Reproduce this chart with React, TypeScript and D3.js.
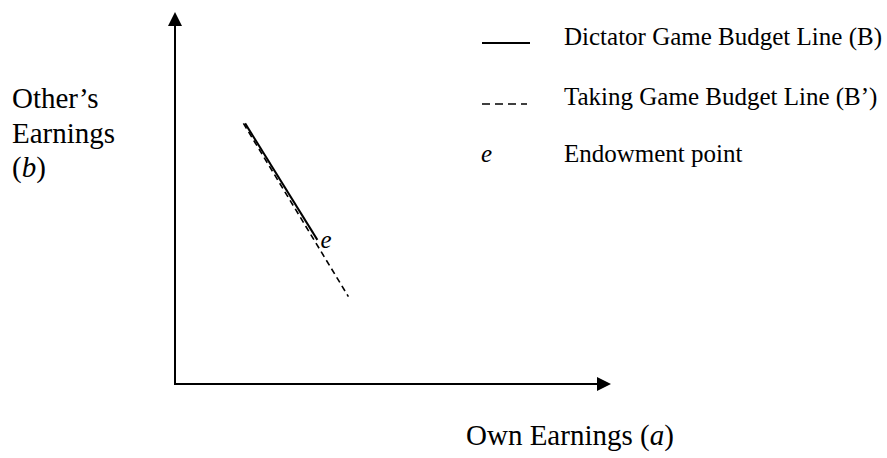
import React, { useEffect, useRef } from 'react'
import * as d3 from 'd3'

// conceptual units: own earnings (a) on x, other's earnings (b) on y
const dictatorLine = [
  { a: 1.65, b: 7.16 },
  { a: 3.35, b: 3.96 },
]
const takingLine = [
  { a: 1.61, b: 7.16 },
  { a: 4.08, b: 2.4 },
]
const endowment = { a: 3.35, b: 3.96, label: 'e' }

const legendItems = [
  { kind: 'solid', label: 'Dictator Game Budget Line (B)' },
  { kind: 'dashed', label: 'Taking Game Budget Line (B\u2019)' },
  { kind: 'point', label: 'Endowment point' },
]
const legendBaselines = [45, 105, 162]

const yLabelLines = ['Other\u2019s', 'Earnings']

const App: React.FC = () => {
  const ref = useRef<SVGSVGElement | null>(null)

  useEffect(() => {
    if (!ref.current) return
    const svg = d3.select(ref.current)
    svg.selectAll('*').remove()
    const font = '"Liberation Serif", "Times New Roman", serif'

    const x = d3.scaleLinear().domain([0, 10]).range([175, 600])
    const y = d3.scaleLinear().domain([0, 10]).range([384, 20])

    // axes with arrow heads
    svg
      .append('line')
      .attr('x1', x(0))
      .attr('y1', y(0) + 1)
      .attr('x2', x(0))
      .attr('y2', 24)
      .attr('stroke', '#000')
      .attr('stroke-width', 2)
    svg
      .append('line')
      .attr('x1', x(0) - 1)
      .attr('y1', y(0))
      .attr('x2', 598)
      .attr('y2', y(0))
      .attr('stroke', '#000')
      .attr('stroke-width', 2)
    svg
      .append('path')
      .attr('d', `M${x(0)},12 L${x(0) - 7},26 L${x(0) + 7},26 Z`)
      .attr('fill', '#000')
    svg
      .append('path')
      .attr('d', `M611,${y(0)} L597,${y(0) - 7} L597,${y(0) + 7} Z`)
      .attr('fill', '#000')

    const line = d3
      .line<{ a: number; b: number }>()
      .x((d) => x(d.a))
      .y((d) => y(d.b))

    svg
      .append('path')
      .attr('d', line(takingLine))
      .attr('fill', 'none')
      .attr('stroke', '#000')
      .attr('stroke-width', 1.6)
      .attr('stroke-dasharray', '6,4')
    svg
      .append('path')
      .attr('d', line(dictatorLine))
      .attr('fill', 'none')
      .attr('stroke', '#000')
      .attr('stroke-width', 2)

    svg
      .append('text')
      .attr('x', x(endowment.a) + 3)
      .attr('y', y(endowment.b) + 8)
      .attr('font-family', font)
      .attr('font-style', 'italic')
      .attr('font-size', 25)
      .text(endowment.label)

    // legend
    const legend = svg.append('g')
    legendItems.forEach((item, i) => {
      const base = legendBaselines[i]
      if (item.kind === 'solid') {
        legend
          .append('line')
          .attr('x1', 482)
          .attr('x2', 530)
          .attr('y1', base - 2)
          .attr('y2', base - 2)
          .attr('stroke', '#000')
          .attr('stroke-width', 2)
      } else if (item.kind === 'dashed') {
        legend
          .append('line')
          .attr('x1', 482)
          .attr('x2', 527)
          .attr('y1', base - 1)
          .attr('y2', base - 1)
          .attr('stroke', '#000')
          .attr('stroke-width', 1.5)
          .attr('stroke-dasharray', '8,5')
      } else {
        legend
          .append('text')
          .attr('x', 481)
          .attr('y', base)
          .attr('font-family', font)
          .attr('font-style', 'italic')
          .attr('font-size', 25)
          .text('e')
      }
      legend
        .append('text')
        .attr('x', 564)
        .attr('y', base)
        .attr('font-family', font)
        .attr('font-size', 25)
        .text(item.label)
    })

    // axis titles
    yLabelLines.forEach((t, i) => {
      svg
        .append('text')
        .attr('x', 12)
        .attr('y', 108 + i * 35)
        .attr('font-family', font)
        .attr('font-size', 29)
        .text(t)
    })
    const bLabel = svg
      .append('text')
      .attr('x', 12)
      .attr('y', 177)
      .attr('font-family', font)
      .attr('font-size', 29)
    bLabel.append('tspan').text('(')
    bLabel.append('tspan').attr('font-style', 'italic').text('b')
    bLabel.append('tspan').text(')')

    const aLabel = svg
      .append('text')
      .attr('x', 466)
      .attr('y', 445)
      .attr('font-family', font)
      .attr('font-size', 29)
    aLabel.append('tspan').text('Own Earnings (')
    aLabel.append('tspan').attr('font-style', 'italic').text('a')
    aLabel.append('tspan').text(')')
  }, [])

  return (
    <svg
      ref={ref}
      width={887}
      height={458}
      style={{ position: 'absolute', left: 0, top: 0, background: '#fff' }}
    />
  )
}

export default App
